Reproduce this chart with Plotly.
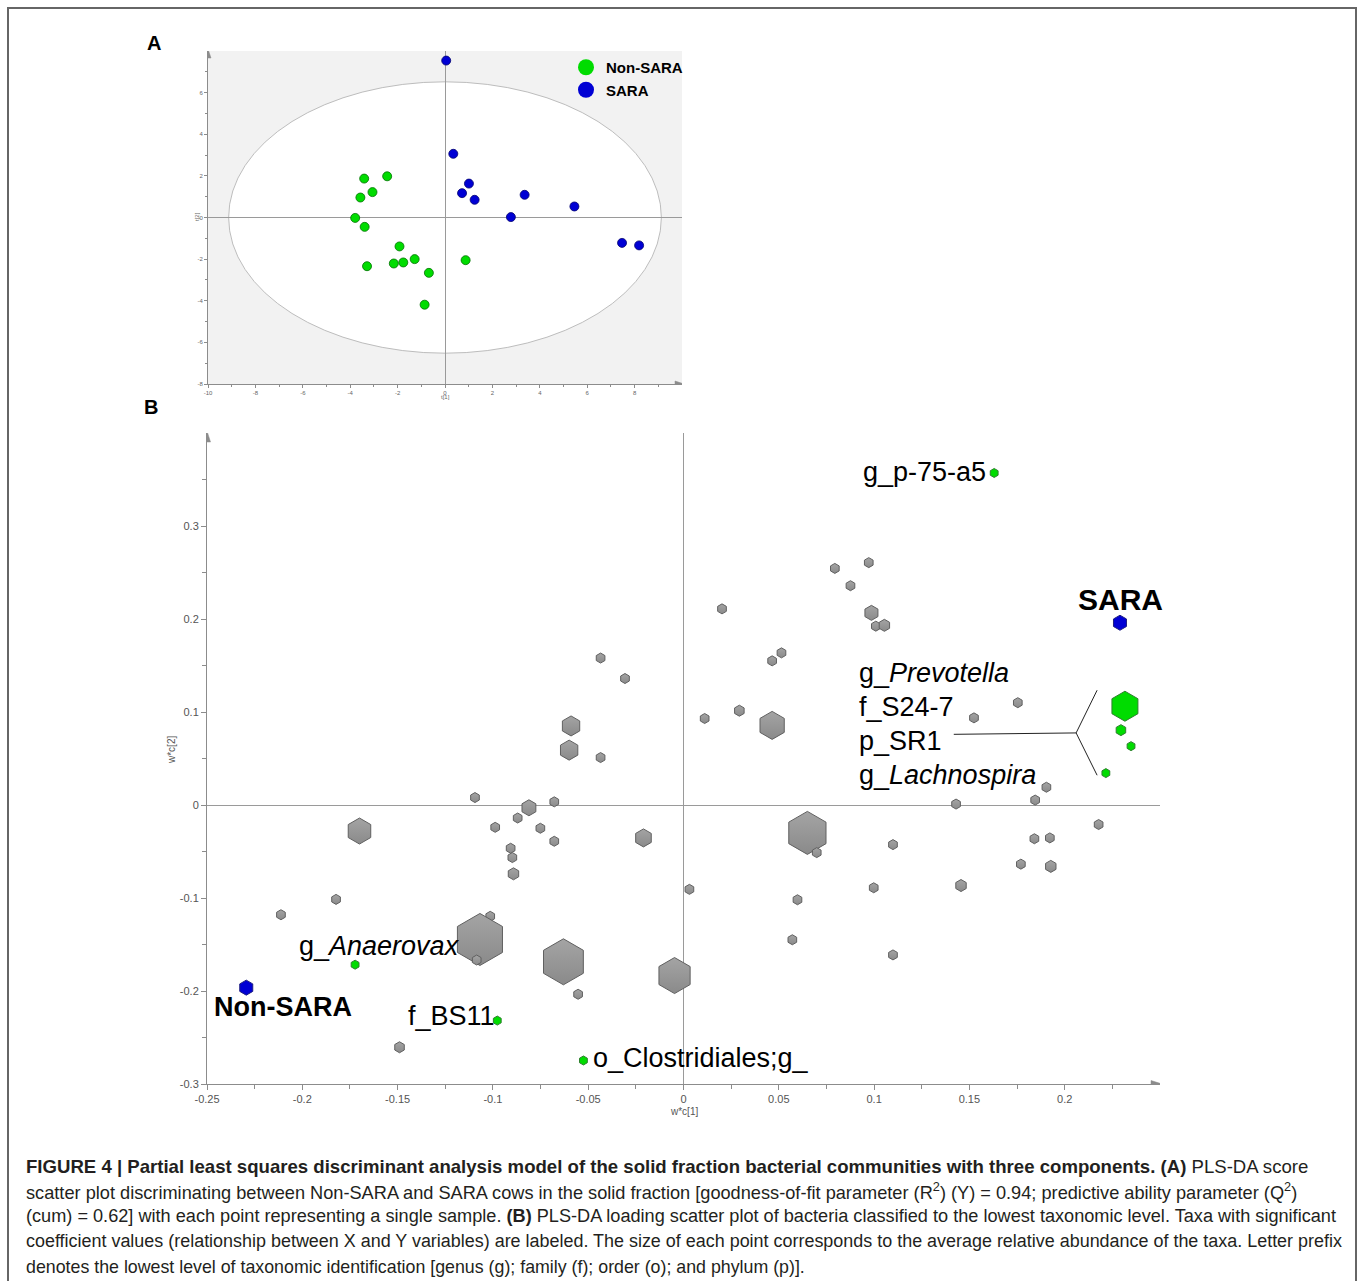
import plotly.graph_objects as go

W, H = 1360, 1281

# ---------------- Panel A: PLS-DA score scatter ----------------
nonsara_t1 = [-3.41, -2.44, -3.57, -3.06, -3.79, -3.39, -1.92, -3.29, -2.16, -1.76, -1.28, -0.68, -0.86, 0.87]
nonsara_t2 = [1.87, 1.98, 0.96, 1.22, -0.02, -0.45, -1.39, -2.34, -2.21, -2.16, -2.00, -2.66, -4.19, -2.05]
sara_t1 = [0.05, 0.35, 1.01, 0.72, 1.25, 3.36, 2.78, 5.46, 7.47, 8.19]
sara_t2 = [7.54, 3.06, 1.63, 1.17, 0.85, 1.09, 0.02, 0.53, -1.22, -1.34]
ellipse_t1 = 9.13   # Hotelling T2 ellipse half-axis along t[1]
ellipse_t2 = 6.52   # half-axis along t[2]

a_xticks = [-10, -8, -6, -4, -2, 0, 2, 4, 6, 8]
a_xticklabels = ["-10", "-8", "-6", "-4", "-2", "0", "2", "4", "6", "8"]
a_xminor = [-9, -7, -5, -3, -1, 1, 3, 5, 7, 9]
a_yticks = [-8, -6, -4, -2, 0, 2, 4, 6]
a_yticklabels = ["-8", "-6", "-4", "-2", "0", "2", "4", "6"]
a_yminor = [-7, -5, -3, -1, 1, 3, 5, 7]

# ---------------- Panel B: PLS-DA loading scatter ----------------
gray_x = [-0.0435, -0.0307, 0.0111, -0.059, -0.060, -0.0435, -0.1094, -0.0678, -0.0811, -0.087,
          -0.0988, -0.0751, -0.0678, -0.0907, -0.0898, -0.0892, -0.170, -0.021, 0.0031, -0.1823,
          -0.2112, -0.1014, -0.1068, -0.1085, -0.063, -0.0047, -0.0553, -0.149,
          0.0972, 0.0794, 0.0876, 0.0202, 0.0986, 0.1009, 0.1054, 0.0514, 0.0465, 0.0293,
          0.0465, 0.1754, 0.1524, 0.1904, 0.1845, 0.143, 0.065, 0.0699, 0.1099, 0.2178,
          0.1841, 0.1922, 0.177, 0.1927, 0.1456, 0.0998, 0.0598, 0.0571, 0.1099]
gray_y = [0.158, 0.136, 0.093, 0.085, 0.059, 0.051, 0.008, 0.0034, -0.003, -0.014,
          -0.024, -0.025, -0.039, -0.0465, -0.0565, -0.074, -0.028, -0.0354, -0.0907, -0.1015,
          -0.118, -0.1197, -0.1446, -0.1667, -0.1686, -0.1834, -0.2035, -0.2605,
          0.2606, 0.2544, 0.2358, 0.2109, 0.2066, 0.1923, 0.1932, 0.1636, 0.155, 0.1014,
          0.0856, 0.110, 0.0937, 0.0191, 0.0053, 0.001, -0.030, -0.0512, -0.0426, -0.021,
          -0.0363, -0.0354, -0.0636, -0.066, -0.0866, -0.089, -0.1019, -0.1449, -0.1612]
gray_size = [10, 10, 10, 20, 20, 10, 10, 10, 16, 10,
             10, 10, 10, 10, 10, 12, 26, 18, 10, 10,
             10, 10, 52, 10, 46, 36, 10, 11,
             10, 10, 10, 10, 15, 10, 12, 10, 10, 11,
             28, 10, 10, 10, 10, 10, 43, 10, 10, 10,
             10, 10, 10, 12, 12, 10, 10, 10, 10]

sig_names = ["g_p-75-a5", "g_Prevotella", "f_S24-7", "p_SR1", "g_Lachnospira",
             "g_Anaerovax", "f_BS11", "o_Clostridiales;g_"]
sig_labels = ["g_p-75-a5", "g_<i>Prevotella</i>", "f_S24-7", "p_SR1", "g_<i>Lachnospira</i>",
              "g_<i>Anaerovax</i>", "f_BS11", "o_Clostridiales;g_"]
sig_x = [0.163, 0.2316, 0.2295, 0.2348, 0.2216, -0.1723, -0.0977, -0.0525]
sig_y = [0.357, 0.1062, 0.0805, 0.0633, 0.0343, -0.1717, -0.2318, -0.2747]
sig_size = [9, 30, 11, 9, 9, 9, 9, 9]

class_names = ["SARA", "Non-SARA"]
class_x = [0.229, -0.2294]
class_y = [0.196, -0.1964]

b_xticks = [-0.25, -0.2, -0.15, -0.1, -0.05, 0, 0.05, 0.1, 0.15, 0.2]
b_xticklabels = ["-0.25", "-0.2", "-0.15", "-0.1", "-0.05", "0", "0.05", "0.1", "0.15", "0.2"]
b_xminor = [-0.225, -0.175, -0.125, -0.075, -0.025, 0.025, 0.075, 0.125, 0.175, 0.225]
b_yticks = [-0.3, -0.2, -0.1, 0, 0.1, 0.2, 0.3]
b_yticklabels = ["-0.3", "-0.2", "-0.1", "0", "0.1", "0.2", "0.3"]
b_yminor = [-0.25, -0.15, -0.05, 0.05, 0.15, 0.25, 0.35]

# bracket linking labels to the right-hand cluster
bracket_x = [0.1418, 0.2060, None, 0.2170, 0.2060, 0.2170]
bracket_y = [0.0760, 0.0775, None, 0.1234, 0.0775, 0.0320]

caption_lines = [
    "<b>FIGURE 4 | Partial least squares discriminant analysis model of the solid fraction bacterial communities with three components. (A)</b> PLS-DA score",
    "scatter plot discriminating between Non-SARA and SARA cows in the solid fraction [goodness-of-fit parameter (R<sup>2</sup>) (Y) = 0.94; predictive ability parameter (Q<sup>2</sup>)",
    "(cum) = 0.62] with each point representing a single sample. <b>(B)</b> PLS-DA loading scatter plot of bacteria classified to the lowest taxonomic level. Taxa with significant",
    "coefficient values (relationship between X and Y variables) are labeled. The size of each point corresponds to the average relative abundance of the taxa. Letter prefix",
    "denotes the lowest level of taxonomic identification [genus (g); family (f); order (o); and phylum (p)].",
]

GREEN = "#00dc00"
BLUE = "#0000d4"
FONT = "Liberation Sans, Arial, sans-serif"


def px(v):
    return v / W


def py(v):
    return 1 - v / H


fig = go.Figure()

# Panel A traces
fig.add_trace(go.Scatter(x=nonsara_t1, y=nonsara_t2, mode="markers", showlegend=False,
                         marker=dict(size=9, color=GREEN, opacity=1, line=dict(color="#007000", width=0.8)),
                         xaxis="x", yaxis="y"))
fig.add_trace(go.Scatter(x=sara_t1, y=sara_t2, mode="markers", showlegend=False,
                         marker=dict(size=9, color=BLUE, opacity=1, line=dict(color="#000070", width=0.8)),
                         xaxis="x", yaxis="y"))
# legend entries
fig.add_trace(go.Scatter(x=[None], y=[None], mode="markers", name="<b>Non-SARA</b>",
                         marker=dict(size=20, color=GREEN, opacity=1), xaxis="x", yaxis="y"))
fig.add_trace(go.Scatter(x=[None], y=[None], mode="markers", name="<b>SARA</b>",
                         marker=dict(size=20, color=BLUE, opacity=1), xaxis="x", yaxis="y"))

# Panel B traces
fig.add_trace(go.Scatter(x=bracket_x, y=bracket_y, mode="lines", showlegend=False,
                         line=dict(color="#222", width=1), xaxis="x2", yaxis="y2"))
fig.add_trace(go.Scatter(x=gray_x, y=gray_y, mode="markers", showlegend=False,
                         marker=dict(symbol="hexagon", size=gray_size, color="#a4a4a4", opacity=1,
                                     gradient=dict(type="vertical", color="#8a8a8a"),
                                     line=dict(color="#606060", width=1)),
                         xaxis="x2", yaxis="y2"))
fig.add_trace(go.Scatter(x=sig_x, y=sig_y, mode="markers", showlegend=False, text=sig_names,
                         marker=dict(symbol="hexagon", size=sig_size, color=GREEN, opacity=1,
                                     line=dict(color="#2f7f2f", width=1)),
                         xaxis="x2", yaxis="y2"))
fig.add_trace(go.Scatter(x=class_x, y=class_y, mode="markers", showlegend=False, text=class_names,
                         marker=dict(symbol="hexagon", size=15, color=BLUE, opacity=1,
                                     line=dict(color="#1e1e80", width=1)),
                         xaxis="x2", yaxis="y2"))

axis_common = dict(showgrid=False, showline=True, linecolor="#8c8c8c", linewidth=1,
                   zeroline=True, zerolinecolor="#9a9a9a", zerolinewidth=1,
                   ticks="outside", tickcolor="#8c8c8c", tickmode="array", fixedrange=True,
                   automargin=False)

fig.update_layout(
    width=W, height=H, margin=dict(l=0, r=0, t=0, b=0, autoexpand=False),
    paper_bgcolor="white", plot_bgcolor="rgba(0,0,0,0)",
    font=dict(family=FONT, color="#000"),
    xaxis=dict(domain=[px(208), px(682)], range=[-10, 10], anchor="y",
               tickvals=a_xticks, ticktext=a_xticklabels, ticklen=3,
               tickfont=dict(size=6, color="#666"),
               minor=dict(tickvals=a_xminor, ticks="outside", ticklen=2, tickcolor="#8c8c8c"),
               **axis_common),
    yaxis=dict(domain=[py(384), py(51)], range=[-8, 8], anchor="x",
               tickvals=a_yticks, ticktext=a_yticklabels, ticklen=3,
               tickfont=dict(size=6, color="#666"),
               minor=dict(tickvals=a_yminor, ticks="outside", ticklen=2, tickcolor="#8c8c8c"),
               **axis_common),
    xaxis2=dict(domain=[px(207), px(1160)], range=[-0.25, 0.25], anchor="y2",
                tickvals=b_xticks, ticktext=b_xticklabels, ticklen=5,
                tickfont=dict(size=11, color="#555"),
                minor=dict(tickvals=b_xminor, ticks="outside", ticklen=4, tickcolor="#8c8c8c"),
                **axis_common),
    yaxis2=dict(domain=[py(1084), py(433)], range=[-0.3, 0.4], anchor="x2",
                tickvals=b_yticks, ticktext=b_yticklabels, ticklen=5,
                tickfont=dict(size=11, color="#555"),
                minor=dict(tickvals=b_yminor, ticks="outside", ticklen=4, tickcolor="#8c8c8c"),
                **axis_common),
    legend=dict(x=px(566), y=py(51), xanchor="left", yanchor="top",
                bgcolor="rgba(0,0,0,0)", font=dict(size=15, family=FONT, color="#000"),
                itemwidth=30, tracegroupgap=0),
)

shapes = [
    # figure frame
    dict(type="rect", xref="paper", yref="paper", x0=px(8), x1=px(1356), y0=py(1300), y1=py(8),
         line=dict(color="#666", width=2), fillcolor="rgba(0,0,0,0)", layer="below"),
    # panel A grey background
    dict(type="rect", xref="x domain", yref="y domain", x0=0, x1=1, y0=0, y1=1,
         fillcolor="#f2f2f2", line=dict(width=0), layer="below"),
    # panel A ellipse
    dict(type="circle", xref="x", yref="y", x0=-ellipse_t1, x1=ellipse_t1,
         y0=-ellipse_t2, y1=ellipse_t2, fillcolor="white",
         line=dict(color="#bdbdbd", width=1), layer="below"),
]
# axis arrowheads (pixel-sized paths anchored at the axis ends)
arrow_style = dict(type="path", xsizemode="pixel", ysizemode="pixel",
                   fillcolor="#8c8c8c", line=dict(color="#8c8c8c", width=0.5), layer="above")
shapes.append(dict(xref="x", yref="y", xanchor=-10, yanchor=8,
                   path="M-3,-7 L0,2 L3,-7 Z", **arrow_style))
shapes.append(dict(xref="x", yref="y", xanchor=10, yanchor=-8,
                   path="M-7,3 L2,0 L-7,-3 Z", **arrow_style))
shapes.append(dict(xref="x2", yref="y2", xanchor=-0.25, yanchor=0.4,
                   path="M-3.5,-9 L0,2 L3.5,-9 Z", **arrow_style))
shapes.append(dict(xref="x2", yref="y2", xanchor=0.25, yanchor=-0.3,
                   path="M-9,3.5 L2,0 L-9,-3.5 Z", **arrow_style))
fig.update_layout(shapes=shapes)

ann = []
pp = dict(xref="paper", yref="paper", showarrow=False, xanchor="center", yanchor="middle")
# axis titles
ann.append(dict(text="t[1]", x=px(445), y=py(397), font=dict(size=6, color="#666"), **pp))
ann.append(dict(text="t[2]", x=px(197), y=py(217), textangle=-90, font=dict(size=6, color="#666"), **pp))
ann.append(dict(text="w*c[1]", x=px(684), y=py(1111), font=dict(size=10, color="#555"), **pp))
ann.append(dict(text="w*c[2]", x=px(171), y=py(750), textangle=-90, font=dict(size=10, color="#555"), **pp))

# panel letters
ann.append(dict(text="<b>A</b>", x=px(154), y=py(43), font=dict(size=20), **pp))
ann.append(dict(text="<b>B</b>", x=px(151), y=py(407), font=dict(size=20), **pp))

# panel B labels
lab = dict(xref="x2", yref="y2", showarrow=False, yanchor="middle", font=dict(size=27, color="#000"))
label_pos = [(0.1597, 0.3584, "right"), (0.0909, 0.1416, "left"), (0.0909, 0.1052, "left"),
             (0.0909, 0.0687, "left"), (0.0909, 0.0322, "left"), (-0.2027, -0.1513, "left"),
             (-0.1455, -0.2264, "left"), (-0.0483, -0.2725, "left")]
for txt, (lx, ly, anc) in zip(sig_labels, label_pos):
    ann.append(dict(text=txt, x=lx, y=ly, xanchor=anc, **lab))
class_pos = [(0.2295, 0.221, "center", 30), (-0.2474, -0.2167, "left", 27)]
for txt, (lx, ly, anc, fs) in zip(class_names, class_pos):
    ann.append(dict(text="<b>" + txt + "</b>", x=lx, y=ly, xanchor=anc, xref="x2", yref="y2",
                    showarrow=False, yanchor="middle", font=dict(size=fs, color="#000")))

# caption
cap_y = [1166, 1191, 1216, 1241, 1267]
cap_size = [18.6, 18.2, 18.15, 17.95, 17.8]
for line, yy, fs in zip(caption_lines, cap_y, cap_size):
    ann.append(dict(text=line, x=px(24), y=py(yy), xref="paper", yref="paper", showarrow=False,
                    xanchor="left", yanchor="middle",
                    font=dict(size=fs, color="#231f20", family=FONT)))

fig.update_layout(annotations=ann)
fig.write_html("out.html",
               post_script="document.body.style.margin='0';document.body.style.overflow='hidden';")
